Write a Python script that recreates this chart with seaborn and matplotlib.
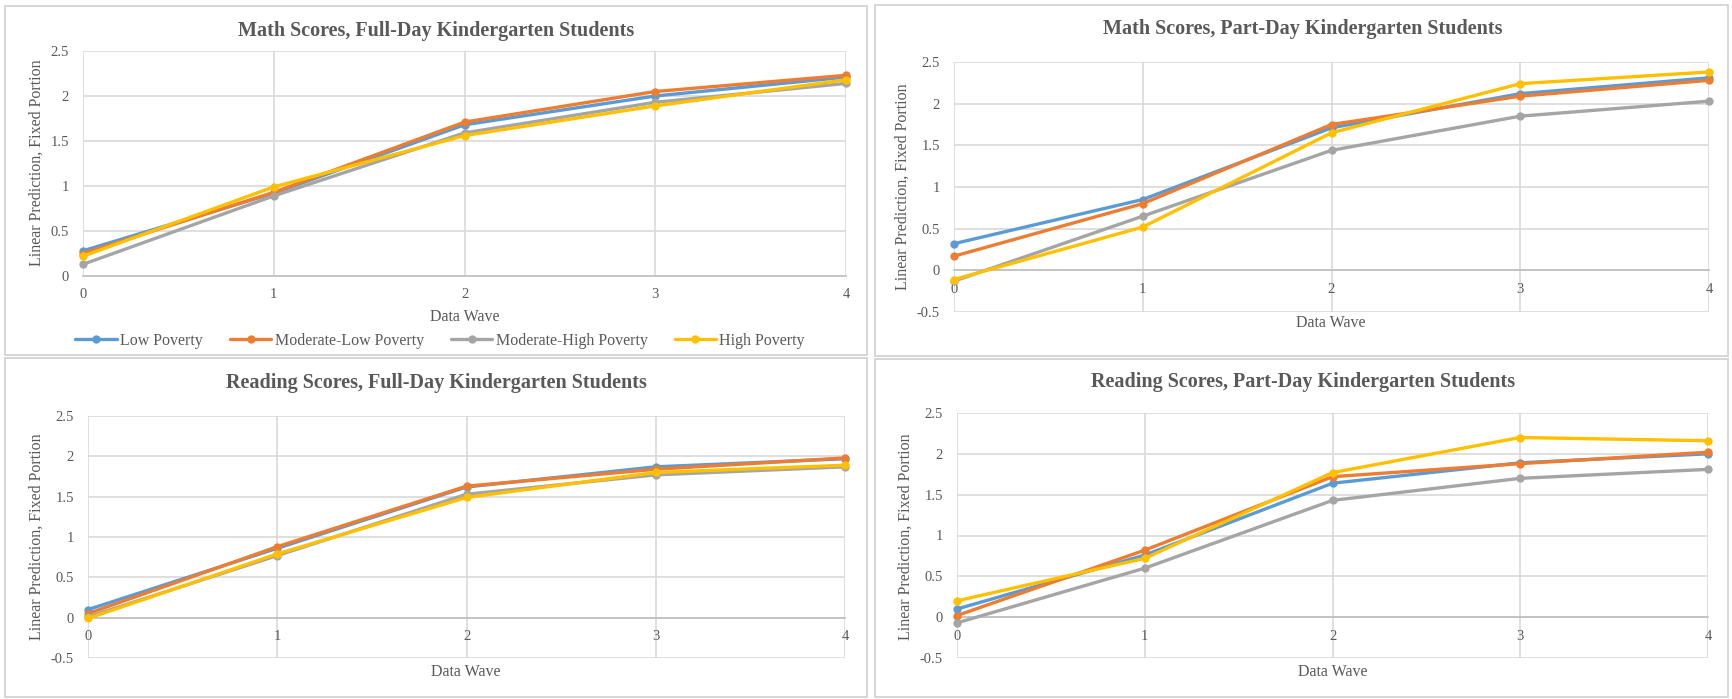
#! /usr/bin/env python3

import pandas as pd
import numpy as np
import matplotlib.pyplot as plt
import matplotlib.patches as patches
from matplotlib.ticker import FuncFormatter
import seaborn as sns

waves = [0, 1, 2, 3, 4]
groups = ['Low Poverty', 'Moderate-Low Poverty', 'Moderate-High Poverty', 'High Poverty']
colors = ['#5B9BD5', '#ED7D31', '#A5A5A5', '#FFC000']

# Math, full-day
math_full_low = [0.28, 0.92, 1.68, 2.00, 2.21]
math_full_modlow = [0.25, 0.93, 1.71, 2.05, 2.23]
math_full_modhigh = [0.13, 0.89, 1.59, 1.93, 2.14]
math_full_high = [0.22, 0.99, 1.56, 1.89, 2.18]

# Math, part-day
math_part_low = [0.32, 0.85, 1.71, 2.12, 2.31]
math_part_modlow = [0.17, 0.80, 1.75, 2.09, 2.28]
math_part_modhigh = [-0.13, 0.65, 1.44, 1.85, 2.03]
math_part_high = [-0.11, 0.52, 1.65, 2.24, 2.38]

# Reading, full-day
read_full_low = [0.10, 0.86, 1.62, 1.87, 1.97]
read_full_modlow = [0.05, 0.88, 1.63, 1.84, 1.98]
read_full_modhigh = [0.01, 0.77, 1.53, 1.77, 1.87]
read_full_high = [-0.01, 0.79, 1.49, 1.80, 1.89]

# Reading, part-day
read_part_low = [0.10, 0.76, 1.64, 1.89, 2.00]
read_part_modlow = [0.02, 0.82, 1.72, 1.88, 2.02]
read_part_modhigh = [-0.07, 0.60, 1.43, 1.70, 1.81]
read_part_high = [0.20, 0.72, 1.77, 2.20, 2.16]

def make_df(series):
	rows = []
	for g, vals in zip(groups, series):
		for w, v in zip(waves, vals):
			rows.append({'Data Wave': w, 'Score': v, 'Group': g})
	return pd.DataFrame(rows)

panels = [
	('Math Scores, Full-Day Kindergarten Students',
		[math_full_low, math_full_modlow, math_full_modhigh, math_full_high], 0.0),
	('Math Scores, Part-Day Kindergarten Students',
		[math_part_low, math_part_modlow, math_part_modhigh, math_part_high], -0.5),
	('Reading Scores, Full-Day Kindergarten Students',
		[read_full_low, read_full_modlow, read_full_modhigh, read_full_high], -0.5),
	('Reading Scores, Part-Day Kindergarten Students',
		[read_part_low, read_part_modlow, read_part_modhigh, read_part_high], -0.5),
]

sns.set_theme(style='white')
plt.rcParams['font.family'] = ['Liberation Serif', 'DejaVu Serif']
txt = '#595959'
grid = '#D9D9D9'

W, H = 1732, 699
fig = plt.figure(figsize=(W / 100, H / 100), dpi=100)

# axes boxes in pixels: left, top, right, bottom
boxes = [(83, 51, 846, 276), (954, 62, 1709, 312), (88, 416, 845, 658), (957, 413, 1708, 658)]
# panel frames: left, top, right, bottom
frames = [(5, 6, 867, 355), (875, 5, 1728, 356), (5, 358, 867, 697), (875, 359, 1728, 697)]
title_pos = [(436, 31), (1303, 29), (436, 383), (1303, 382)]
xlab_pos = [(465, 317), (1331, 323), (466, 672), (1333, 672)]
ylab_pos = [(37, 163), (903, 187), (37, 537), (906, 537)]

for fr in frames:
	l, t, r, b = fr
	fig.patches.append(patches.Rectangle((l / W, 1 - b / H), (r - l) / W, (b - t) / H,
		transform=fig.transFigure, fill=False, edgecolor='#D0D0D0', linewidth=1.2))

axes = []
for i, (title, series, ymin) in enumerate(panels):
	l, t, r, b = boxes[i]
	ax = fig.add_axes([l / W, 1 - b / H, (r - l) / W, (b - t) / H])
	df = make_df(series)
	sns.lineplot(data=df, x='Data Wave', y='Score', hue='Group', hue_order=groups,
		palette=colors, marker='o', markersize=6, markeredgewidth=0, linewidth=2.4,
		ax=ax, legend=(i == 0), clip_on=False, zorder=3)
	ax.set_xlim(0, 4)
	ax.set_ylim(ymin, 2.5)
	ax.set_xticks(waves)
	ax.set_yticks(np.arange(ymin, 2.51, 0.5))
	ax.yaxis.set_major_formatter(FuncFormatter(lambda v, p: '%g' % v))
	ax.grid(True, color=grid, linewidth=1.2)
	for s in ['top', 'right', 'left']:
		ax.spines[s].set_visible(False)
	ax.spines['bottom'].set_position(('data', 0))
	ax.spines['bottom'].set_color('#BFBFBF')
	ax.spines['bottom'].set_linewidth(1.2)
	ax.tick_params(axis='both', length=0, labelsize=10.5, labelcolor=txt)
	ax.tick_params(axis='x', pad=9)
	ax.tick_params(axis='y', pad=10)
	ax.set_xlabel('')
	ax.set_ylabel('')
	fig.text(title_pos[i][0] / W, 1 - title_pos[i][1] / H, title, ha='center', va='center',
		fontsize=14.5, fontweight='bold', color=txt)
	fig.text(xlab_pos[i][0] / W, 1 - xlab_pos[i][1] / H, 'Data Wave', ha='center', va='center',
		fontsize=11.5, color=txt)
	fig.text(ylab_pos[i][0] / W, 1 - ylab_pos[i][1] / H, 'Linear Prediction, Fixed Portion',
		ha='center', va='center', rotation=90, fontsize=11.5, color=txt)
	axes.append(ax)

handles, labels = axes[0].get_legend_handles_labels()
axes[0].get_legend().remove()
fig.legend(handles, labels, loc='center', bbox_to_anchor=(440 / W, 1 - 341 / H), ncol=4,
	frameon=False, fontsize=11.5, labelcolor=txt, handlelength=2.6, handletextpad=0.2,
	columnspacing=1.7)

fig.savefig('out.png', dpi=100)
